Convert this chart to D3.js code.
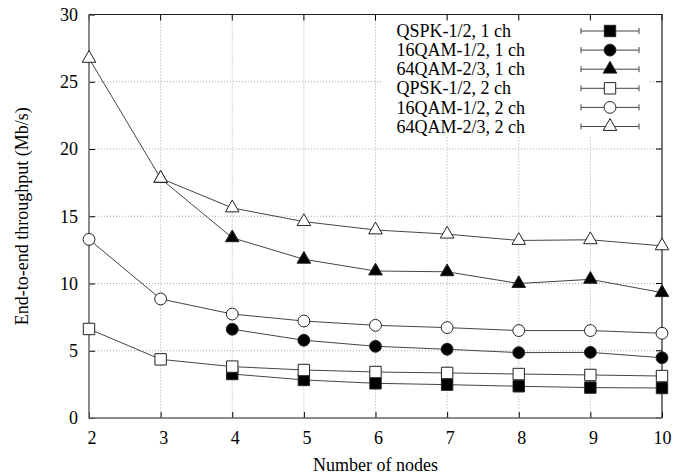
<!DOCTYPE html>
<html>
<head>
<meta charset="utf-8">
<script src="https://cdn.jsdelivr.net/npm/d3@7"></script>
<style>
  body { margin: 0; background: #fff; }
  text { font-family: "Liberation Serif", "DejaVu Serif", serif; fill: #000; }
</style>
</head>
<body>
<svg id="chart" width="687" height="476"></svg>
<script>
// values
var nodes = [2, 3, 4, 5, 6, 7, 8, 9, 10];
var yTicks = [0, 5, 10, 15, 20, 25, 30];

var qpsk1 = [null, null, 3.27, 2.83, 2.58, 2.48, 2.36, 2.26, 2.23];
var qam16_1 = [null, null, 6.6, 5.78, 5.33, 5.11, 4.86, 4.88, 4.48];
var qam64_1 = [null, 17.8, 13.4, 11.8, 10.93, 10.87, 10.0, 10.31, 9.32];
var qpsk2 = [6.62, 4.36, 3.82, 3.57, 3.42, 3.35, 3.27, 3.2, 3.12];
var qam16_2 = [13.28, 8.85, 7.73, 7.21, 6.89, 6.72, 6.5, 6.5, 6.3];
var qam64_2 = [26.74, 17.82, 15.62, 14.6, 13.98, 13.67, 13.2, 13.25, 12.8];

var seriesNames = ["QSPK-1/2, 1 ch", "16QAM-1/2, 1 ch", "64QAM-2/3, 1 ch",
                   "QPSK-1/2, 2 ch", "16QAM-1/2, 2 ch", "64QAM-2/3, 2 ch"];

var series = [
    {name: seriesNames[0], values: qpsk1, shape: d3.symbolSquare, size: 130, filled: true},
    {name: seriesNames[1], values: qam16_1, shape: d3.symbolCircle, size: 110, filled: true},
    {name: seriesNames[2], values: qam64_1, shape: d3.symbolTriangle, size: 80, filled: true},
    {name: seriesNames[3], values: qpsk2, shape: d3.symbolSquare, size: 130, filled: false},
    {name: seriesNames[4], values: qam16_2, shape: d3.symbolCircle, size: 110, filled: false},
    {name: seriesNames[5], values: qam64_2, shape: d3.symbolTriangle, size: 80, filled: false}
];

var plotLeft = 89, plotRight = 662, plotTop = 14.5, plotBottom = 418,
    tickLen = 6,
    lineColor = "#444";

var svg = d3.select("#chart");

var x = d3.scaleLinear().domain([2, 10]).range([plotLeft, plotRight]);
var y = d3.scaleLinear().domain([0, 30]).range([plotBottom, plotTop]);

// dotted grid
var grid = svg.append("g").attr("class", "grid");
grid.selectAll(".vgrid")
    .data(nodes.slice(1, -1))
    .enter().append("line")
    .attr("x1", function(d) { return x(d); })
    .attr("x2", function(d) { return x(d); })
    .attr("y1", plotTop).attr("y2", plotBottom);
grid.selectAll(".hgrid")
    .data(yTicks.slice(1, -1))
    .enter().append("line")
    .attr("y1", function(d) { return y(d); })
    .attr("y2", function(d) { return y(d); })
    .attr("x1", plotLeft).attr("x2", plotRight);
grid.selectAll("line")
    .attr("stroke", "#aaa")
    .attr("stroke-width", 1)
    .attr("stroke-dasharray", "1,2");

// legend background hides the grid under it
var legendX = 383, legendY = 19, rowH = 19.1;
svg.append("rect")
   .attr("x", legendX).attr("y", legendY)
   .attr("width", 267).attr("height", 118)
   .attr("fill", "#fff");

// axes, ticks point inward
var xAxis = d3.axisBottom(x).tickValues(nodes).tickSizeInner(-tickLen).tickSizeOuter(0).tickPadding(13.5);
var yAxis = d3.axisLeft(y).tickValues(yTicks).tickSizeInner(-tickLen).tickSizeOuter(0).tickPadding(11);

var gx = svg.append("g").attr("transform", "translate(0," + plotBottom + ")").call(xAxis);
var gy = svg.append("g").attr("transform", "translate(" + plotLeft + ",0)").call(yAxis);
[gx, gy].forEach(function(g) {
    g.select(".domain").remove();
    g.selectAll(".tick line").attr("stroke", "#000");
    g.selectAll("text").style("font-size", "18px").style("font-family", "'Liberation Serif', serif");
});
gx.selectAll("text").attr("dx", function(d) { return d < 10 ? 2.5 : 0; });

// mirrored ticks on top and right
svg.append("g").selectAll("line")
   .data(nodes).enter().append("line")
   .attr("x1", function(d) { return x(d); })
   .attr("x2", function(d) { return x(d); })
   .attr("y1", plotTop).attr("y2", plotTop + tickLen)
   .attr("stroke", "#000");
svg.append("g").selectAll("line")
   .data(yTicks).enter().append("line")
   .attr("y1", function(d) { return y(d); })
   .attr("y2", function(d) { return y(d); })
   .attr("x1", plotRight).attr("x2", plotRight - tickLen)
   .attr("stroke", "#000");

// frame: left and bottom edges are greyer in the reference
svg.append("path")
   .attr("d", "M" + plotLeft + "," + plotTop + "H" + plotRight + "V" + plotBottom)
   .attr("fill", "none")
   .attr("stroke", "#222")
   .attr("stroke-width", 1.2);
svg.append("path")
   .attr("d", "M" + plotLeft + "," + plotTop + "V" + plotBottom + "H" + plotRight)
   .attr("fill", "none")
   .attr("stroke", "#666")
   .attr("stroke-width", 1.5);

// axis titles
svg.append("text")
   .attr("x", (plotLeft + plotRight) / 2)
   .attr("y", 471)
   .attr("text-anchor", "middle")
   .style("font-size", "18px")
   .text("Number of nodes");

svg.append("text")
   .attr("transform", "translate(28," + ((plotTop + plotBottom) / 2) + ") rotate(-90)")
   .attr("text-anchor", "middle")
   .style("font-size", "18px")
   .text("End-to-end throughput (Mb/s)");

// data
var line = d3.line()
    .defined(function(d) { return d.v !== null; })
    .x(function(d) { return x(d.n); })
    .y(function(d) { return y(d.v); });

var plot = svg.append("g").attr("class", "plot");

series.forEach(function(s) {
    var pts = nodes.map(function(n, i) { return {n: n, v: s.values[i]}; });
    plot.append("path")
        .datum(pts)
        .attr("d", line)
        .attr("fill", "none")
        .attr("stroke", lineColor)
        .attr("stroke-width", 1);
});

series.forEach(function(s) {
    var pts = nodes.map(function(n, i) { return {n: n, v: s.values[i]}; })
                   .filter(function(d) { return d.v !== null; });
    var sym = d3.symbol().type(s.shape).size(s.size);
    plot.selectAll(null)
        .data(pts)
        .enter().append("path")
        .attr("d", sym)
        .attr("transform", function(d) { return "translate(" + x(d.n) + "," + y(d.v) + ")"; })
        .attr("fill", s.filled ? "#000" : "#fff")
        .attr("stroke", "#222")
        .attr("stroke-width", 1);
});

// legend
var legend = svg.append("g").attr("class", "legend");
var rows = legend.selectAll(".row")
    .data(series)
    .enter().append("g")
    .attr("class", "row")
    .attr("transform", function(d, i) { return "translate(0," + (31 + i * rowH) + ")"; });

rows.append("text")
    .attr("x", 396.5)
    .attr("dy", "0.34em")
    .style("font-size", "18px")
    .text(function(d) { return d.name; });

var sx1 = 581, sx2 = 639, capH = 3;
rows.append("line")
    .attr("x1", sx1).attr("x2", sx2)
    .attr("stroke", lineColor);
rows.append("line")
    .attr("x1", sx1).attr("x2", sx1)
    .attr("y1", -capH).attr("y2", capH)
    .attr("stroke", lineColor);
rows.append("line")
    .attr("x1", sx2).attr("x2", sx2)
    .attr("y1", -capH).attr("y2", capH)
    .attr("stroke", lineColor);
rows.append("path")
    .attr("d", function(d) { return d3.symbol().type(d.shape).size(d.size)(); })
    .attr("transform", "translate(610,0)")
    .attr("fill", function(d) { return d.filled ? "#000" : "#fff"; })
    .attr("stroke", "#222");
</script>
</body>
</html>
